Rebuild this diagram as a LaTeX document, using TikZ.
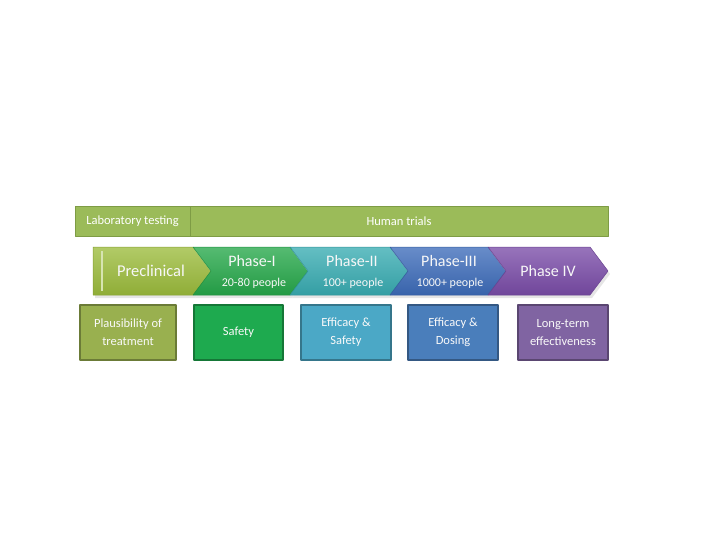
\documentclass[tikz,border=0pt]{standalone}
\usepackage{fontspec}
\setmainfont{Carlito}
\definecolor{trialolive}{HTML}{9BBB59}
\definecolor{oliveedge}{HTML}{7E9C45}
\definecolor{preclingreen}{HTML}{9CBC3C}
\definecolor{phaseonegreen}{HTML}{26A84A}
\definecolor{phasetwoteal}{HTML}{38ACB2}
\definecolor{phasethreeblue}{HTML}{3D6CBA}
\definecolor{phasefourpurple}{HTML}{7A4CA8}
\definecolor{plausolive}{HTML}{99B04F}
\definecolor{safetygreen}{HTML}{1EAA4F}
\definecolor{efficteal}{HTML}{4BA8C6}
\definecolor{dosingblue}{HTML}{4A7EBB}
\definecolor{longpurple}{HTML}{8064A2}

\begin{document}
\begin{tikzpicture}[
  x=1pt,
  y=-1pt,
  line join=round,
  barbox/.style={draw=oliveedge,fill=trialolive,line width=1pt,text=white,
    minimum height=29pt,inner sep=0pt,font=\fontsize{12.5}{14}\selectfont},
  chevron/.style={draw=#1!85!black,line width=0.5pt,top color=#1!78!white,bottom color=#1!92!black},
  chevshadow/.style={fill=black!10,draw=none},
  phasetitle/.style={text=white!94!gray,inner sep=0pt,font=\fontsize{16}{18}\selectfont},
  phasesub/.style={text=white!94!gray,inner sep=0pt,font=\fontsize{12}{14}\selectfont},
  resultbox/.style={draw=#1!70!black,fill=#1,line width=1.2pt,text=white!95!gray,
    align=center,minimum height=55pt,inner sep=0pt,font=\fontsize{12.5}{18}\selectfont}
]
  \useasboundingbox (0,0) rectangle (720,540);

  \newcommand{\phasechevron}[3]{%
    \path[chevshadow] (#1+2,250) -- (#2+2,250) -- ++(18,24) -- (#2+2,298) -- (#1+2,298) -- ++(18,-24) -- cycle;
    \path[chevron=#3] (#1,247) -- (#2,247) -- ++(18,24) -- (#2,295) -- (#1,295) -- ++(18,-24) -- cycle;
  }

  % Stage bars along the top.
  \node[barbox,minimum width=115pt] (labbar) at (132.5,221.5) {Laboratory testing};
  \node[barbox,minimum width=418pt] (humanbar) at (399,221.5) {Human trials};

  % Preclinical arrow, flat on the left.
  \path[chevshadow] (95,250) -- (195,250) -- ++(18,24) -- (195,298) -- (95,298) -- cycle;
  \path[chevron=preclingreen] (93,247) -- (193,247) -- ++(20,24) -- (193,295) -- (93,295) -- cycle;
  \draw[preclingreen!40!white,line width=1.6pt] (102,251) -- (102,291);

  % Phase arrows, drawn left to right.
  \phasechevron{193}{290}{phaseonegreen}
  \phasechevron{290}{390}{phasetwoteal}
  \phasechevron{390}{488}{phasethreeblue}
  \phasechevron{488}{590}{phasefourpurple}

  \node[phasetitle,font=\fontsize{16.5}{18}\selectfont] (preclin) at (151,271) {Preclinical};
  \node[phasetitle] (phaseone) at (252,261) {Phase-I};
  \node[phasesub] (phaseonesub) at (254,283) {20-80 people};
  \node[phasetitle] (phasetwo) at (352,261) {Phase-II};
  \node[phasesub] (phasetwosub) at (353,283) {100+ people};
  \node[phasetitle] (phasethree) at (449,261) {Phase-III};
  \node[phasesub] (phasethreesub) at (450,283) {1000+ people};
  \node[phasetitle] (phasefour) at (548,271) {Phase IV};

  % What each stage looks at.
  \node[resultbox=plausolive,minimum width=96pt] (plaus) at (128,332.5) {Plausibility of\\treatment};
  \node[resultbox=safetygreen,minimum width=89pt] (safety) at (238.5,332.5) {Safety};
  \node[resultbox=efficteal,minimum width=90pt] (effsafe) at (346,332.5) {Efficacy \&\\Safety};
  \node[resultbox=dosingblue,minimum width=90pt] (effdose) at (453,332.5) {Efficacy \&\\Dosing};
  \node[resultbox=longpurple,minimum width=90pt] (longterm) at (563,332.5) {Long-term\\effectiveness};
\end{tikzpicture}
\end{document}
